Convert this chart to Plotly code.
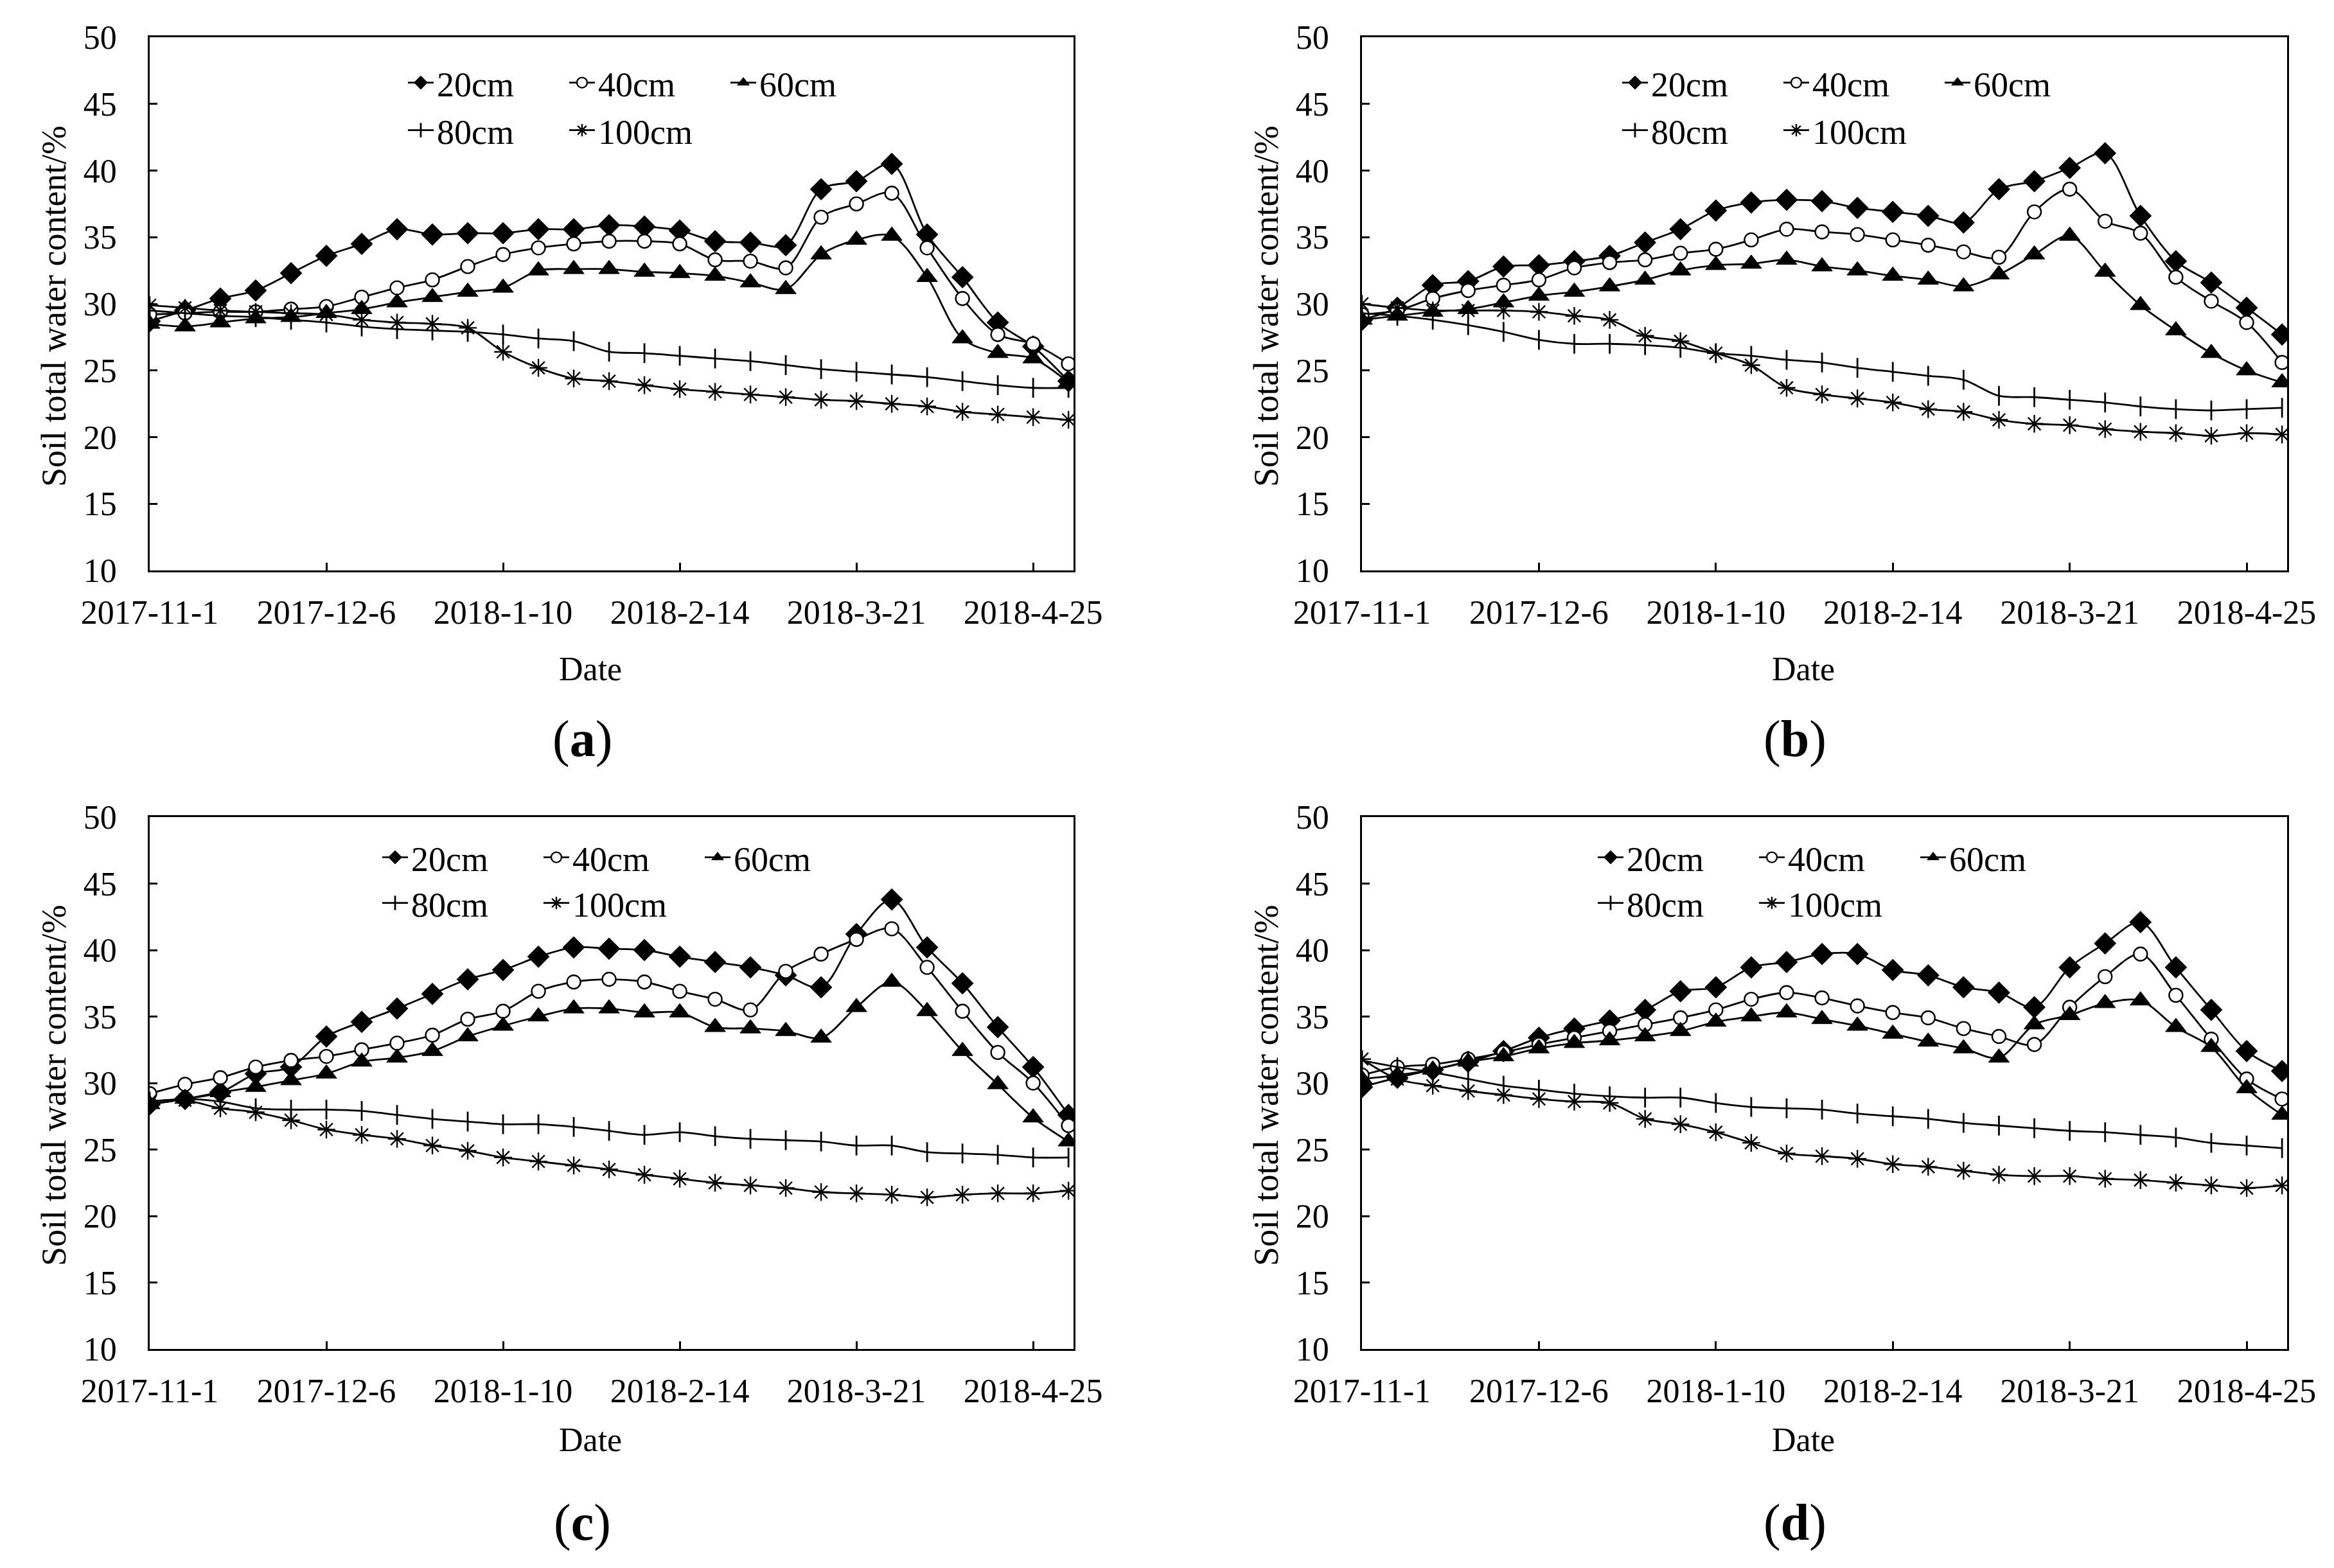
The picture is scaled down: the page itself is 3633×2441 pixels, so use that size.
import plotly.graph_objects as go

# ---------------- data ----------------
dates = ["2017-11-01", "2017-11-08", "2017-11-15", "2017-11-22", "2017-11-29",
         "2017-12-06", "2017-12-13", "2017-12-20", "2017-12-27", "2018-01-03",
         "2018-01-10", "2018-01-17", "2018-01-24", "2018-01-31", "2018-02-07",
         "2018-02-14", "2018-02-21", "2018-02-28", "2018-03-07", "2018-03-14",
         "2018-03-21", "2018-03-28", "2018-04-04", "2018-04-11", "2018-04-18",
         "2018-04-25", "2018-05-02"]

tick_vals = ["2017-11-01", "2017-12-06", "2018-01-10", "2018-02-14", "2018-03-21", "2018-04-25"]
tick_text = ["2017-11-1", "2017-12-6", "2018-1-10", "2018-2-14", "2018-3-21", "2018-4-25"]

depths = ["20cm", "40cm", "60cm", "80cm", "100cm"]

a_20 = [28.7, 29.5, 30.4, 31.0, 32.3, 33.6, 34.5, 35.6, 35.2, 35.3, 35.3, 35.6, 35.6, 35.9, 35.8, 35.5, 34.7, 34.6, 34.4, 38.6, 39.2, 40.5, 35.2, 32.0, 28.6, 26.8, 24.2]
a_40 = [29.2, 29.3, 29.4, 29.4, 29.6, 29.8, 30.5, 31.2, 31.8, 32.8, 33.7, 34.2, 34.5, 34.7, 34.7, 34.5, 33.3, 33.2, 32.7, 36.5, 37.5, 38.3, 34.2, 30.4, 27.7, 27.0, 25.5]
a_60 = [28.5, 28.3, 28.6, 28.9, 29.0, 29.3, 29.6, 30.1, 30.5, 30.9, 31.2, 32.5, 32.6, 32.6, 32.4, 32.3, 32.1, 31.6, 31.1, 33.7, 34.8, 35.1, 32.0, 27.4, 26.3, 25.9, 24.1]
a_80 = [29.5, 29.3, 29.1, 29.0, 28.8, 28.6, 28.3, 28.1, 28.0, 27.9, 27.7, 27.4, 27.2, 26.4, 26.3, 26.1, 25.9, 25.7, 25.4, 25.1, 24.9, 24.7, 24.5, 24.2, 23.9, 23.7, 23.7]
a_100 = [29.9, 29.7, 29.5, 29.4, 29.3, 29.2, 28.8, 28.6, 28.5, 28.2, 26.4, 25.2, 24.4, 24.2, 23.9, 23.6, 23.4, 23.2, 23.0, 22.8, 22.7, 22.5, 22.3, 21.9, 21.7, 21.5, 21.3]

b_20 = [28.8, 29.7, 31.4, 31.7, 32.8, 32.9, 33.2, 33.6, 34.6, 35.6, 37.0, 37.6, 37.8, 37.7, 37.2, 36.9, 36.6, 36.1, 38.6, 39.2, 40.2, 41.3, 36.6, 33.2, 31.6, 29.7, 27.7]
b_40 = [29.2, 29.5, 30.4, 31.0, 31.4, 31.8, 32.7, 33.1, 33.3, 33.8, 34.1, 34.8, 35.6, 35.4, 35.2, 34.8, 34.4, 33.9, 33.5, 36.9, 38.6, 36.2, 35.3, 32.0, 30.2, 28.6, 25.6]
b_60 = [28.8, 29.1, 29.4, 29.6, 30.1, 30.6, 30.9, 31.3, 31.8, 32.5, 32.9, 33.0, 33.3, 32.8, 32.5, 32.1, 31.8, 31.3, 32.2, 33.7, 35.1, 32.4, 29.9, 28.0, 26.3, 25.0, 24.1]
b_80 = [29.3, 29.1, 28.8, 28.4, 27.9, 27.3, 27.0, 27.0, 26.9, 26.7, 26.3, 26.1, 25.8, 25.6, 25.2, 24.9, 24.6, 24.3, 23.1, 23.0, 22.8, 22.6, 22.3, 22.1, 22.0, 22.1, 22.2]
b_100 = [30.0, 29.7, 29.5, 29.5, 29.5, 29.4, 29.1, 28.8, 27.6, 27.2, 26.3, 25.4, 23.7, 23.2, 22.9, 22.6, 22.1, 21.9, 21.3, 21.0, 20.9, 20.6, 20.4, 20.3, 20.1, 20.3, 20.2]

c_20 = [28.4, 28.8, 29.3, 30.7, 31.2, 33.5, 34.6, 35.6, 36.7, 37.8, 38.5, 39.5, 40.2, 40.1, 40.0, 39.5, 39.1, 38.7, 38.1, 37.2, 41.2, 43.8, 40.2, 37.5, 34.2, 31.2, 27.6]
c_40 = [29.2, 29.9, 30.4, 31.2, 31.7, 32.0, 32.5, 33.0, 33.6, 34.8, 35.4, 36.9, 37.6, 37.8, 37.6, 36.9, 36.3, 35.5, 38.4, 39.7, 40.8, 41.6, 38.7, 35.4, 32.3, 30.0, 26.8]
c_60 = [28.4, 28.8, 29.3, 29.7, 30.2, 30.7, 31.6, 31.9, 32.4, 33.5, 34.3, 35.0, 35.6, 35.6, 35.3, 35.3, 34.2, 34.1, 33.9, 33.4, 35.7, 37.6, 35.4, 32.4, 29.9, 27.4, 25.6]
c_80 = [28.6, 28.8, 28.6, 28.1, 28.0, 28.0, 27.9, 27.6, 27.3, 27.1, 26.9, 26.9, 26.7, 26.4, 26.1, 26.3, 26.0, 25.8, 25.7, 25.6, 25.3, 25.3, 24.8, 24.7, 24.6, 24.4, 24.4]
c_100 = [28.6, 28.7, 28.1, 27.8, 27.2, 26.5, 26.1, 25.8, 25.3, 24.9, 24.4, 24.1, 23.8, 23.5, 23.1, 22.8, 22.5, 22.3, 22.1, 21.8, 21.7, 21.6, 21.4, 21.6, 21.7, 21.7, 21.9]

d_20 = [29.7, 30.4, 31.0, 31.6, 32.4, 33.4, 34.1, 34.7, 35.5, 36.9, 37.2, 38.7, 39.1, 39.7, 39.7, 38.5, 38.1, 37.2, 36.8, 35.7, 38.7, 40.5, 42.1, 38.7, 35.5, 32.4, 30.9]
d_40 = [30.6, 31.2, 31.4, 31.8, 32.3, 32.9, 33.4, 33.9, 34.4, 34.9, 35.5, 36.3, 36.8, 36.4, 35.8, 35.3, 34.9, 34.1, 33.5, 32.9, 35.7, 38.0, 39.7, 36.6, 33.3, 30.3, 28.8]
d_60 = [30.3, 30.6, 31.0, 31.6, 32.0, 32.6, 33.0, 33.2, 33.5, 33.9, 34.6, 35.0, 35.3, 34.8, 34.3, 33.7, 33.1, 32.6, 31.9, 34.4, 35.1, 36.0, 36.2, 34.2, 32.7, 29.6, 27.6]
d_80 = [31.7, 31.2, 30.8, 30.3, 29.8, 29.5, 29.2, 29.0, 28.9, 28.9, 28.5, 28.2, 28.1, 28.0, 27.7, 27.5, 27.3, 27.0, 26.8, 26.6, 26.4, 26.3, 26.1, 25.9, 25.5, 25.3, 25.1]
d_100 = [31.8, 30.3, 29.8, 29.4, 29.1, 28.8, 28.6, 28.5, 27.3, 26.9, 26.3, 25.5, 24.7, 24.5, 24.3, 23.9, 23.7, 23.4, 23.1, 23.0, 23.0, 22.8, 22.7, 22.5, 22.3, 22.1, 22.3]

panels = [
    ("a", [a_20, a_40, a_60, a_80, a_100]),
    ("b", [b_20, b_40, b_60, b_80, b_100]),
    ("c", [c_20, c_40, c_60, c_80, c_100]),
    ("d", [d_20, d_40, d_60, d_80, d_100]),
]

# ---------------- style ----------------
OFF = 8                      # default page margin of the html body
W, H = 3633 - OFF, 2441 - OFF
FONT = "Liberation Serif"
TICK_SIZE = 52
LW = 2.8

marker_styles = [
    dict(symbol="diamond", size=26, color="black", line=dict(color="black", width=1)),
    dict(symbol="circle", size=21, color="white", line=dict(color="black", width=2.4)),
    dict(symbol="triangle-up", size=28, color="black", line=dict(color="black", width=1)),
    dict(symbol="line-ns", size=22, color="black", line=dict(color="black", width=2.8)),
    dict(symbol="asterisk", size=23, color="black", line=dict(color="black", width=2.4)),
]

# plot-area pixel boxes in page pixels (left, right, top, bottom)
boxes = [(233, 1671, 58, 888), (2120, 3560, 58, 888),
         (233, 1671, 1272, 2100), (2120, 3560, 1272, 2100)]
legend_left = [630, 2520, 590, 2482]
legend_rows = [(129, 203), (129, 203), (1335, 1406), (1335, 1406)]
date_offset = [154, 154, 141, 141]
label_offset = [262, 262, 270, 270]

fig = go.Figure()
layout = dict(
    template="none",
    width=W, height=H, autosize=False,
    margin=dict(l=0, r=0, t=0, b=0, pad=0, autoexpand=False),
    paper_bgcolor="white", plot_bgcolor="white",
    font=dict(family=FONT, color="black", size=TICK_SIZE),
    annotations=[],
)

def px(v):
    return (v - OFF) / W

def py(v):
    return 1 - (v - OFF) / H

for i, (lab, series) in enumerate(panels):
    n = "" if i == 0 else str(i + 1)
    L, R, T, B = boxes[i]
    layout["xaxis" + n] = dict(
        domain=[px(L), px(R)], anchor="y" + n, type="date", automargin=False,
        range=["2017-11-01", "2018-05-03"],
        tickvals=tick_vals, ticktext=tick_text,
        ticks="inside", ticklen=12, tickwidth=2.5, tickcolor="black",
        showline=True, linecolor="black", linewidth=2.5, mirror=True,
        showgrid=False, zeroline=False,
        tickfont=dict(family=FONT, size=TICK_SIZE, color="black"),
        ticklabelstandoff=18,
    )
    layout["yaxis" + n] = dict(
        domain=[py(B), py(T)], anchor="x" + n, automargin=False,
        range=[10, 50], dtick=5, tick0=10,
        ticks="inside", ticklen=12, tickwidth=2.5, tickcolor="black",
        showline=True, linecolor="black", linewidth=2.5, mirror=True,
        showgrid=False, zeroline=False,
        tickfont=dict(family=FONT, size=TICK_SIZE, color="black"),
        ticklabelstandoff=38,
    )
    leg1 = "legend" if i == 0 else "legend" + str(2 * i + 1)
    leg2 = "legend" + str(2 * i + 2)
    r1, r2 = legend_rows[i]
    for lid, ry in ((leg1, r1), (leg2, r2)):
        layout[lid] = dict(
            orientation="h", x=px(legend_left[i]), y=py(ry),
            xanchor="left", yanchor="middle", xref="paper", yref="paper",
            bgcolor="rgba(0,0,0,0)", borderwidth=0,
            font=dict(family=FONT, size=54, color="black"),
            itemwidth=40, entrywidth=196, entrywidthmode="pixels",
            traceorder="normal",
        )
    for j, (name, vals) in enumerate(zip(depths, series)):
        fig.add_trace(go.Scatter(
            x=dates, y=vals, name=name, mode="lines+markers",
            xaxis="x" + n, yaxis="y" + n,
            line=dict(color="black", width=LW, shape="spline", smoothing=0.9),
            marker=marker_styles[j],
            legend=leg1 if j < 3 else leg2,
            showlegend=True,
        ))
    cx = (L + R) / 2
    layout["annotations"].append(dict(
        text="Soil total water content/%", textangle=-90,
        x=px(L - 149), y=py((T + B) / 2 + 4), xref="paper", yref="paper",
        showarrow=False, xanchor="center", yanchor="middle",
        font=dict(family=FONT, size=54, color="black")))
    layout["annotations"].append(dict(
        text="Date", x=px(cx - 33), y=py(B + date_offset[i]), xref="paper", yref="paper",
        showarrow=False, xanchor="center", yanchor="middle",
        font=dict(family=FONT, size=52, color="black")))
    layout["annotations"].append(dict(
        text="(<b>" + lab + "</b>)", x=px(cx - 46), y=py(B + label_offset[i]),
        xref="paper", yref="paper",
        showarrow=False, xanchor="center", yanchor="middle",
        font=dict(family=FONT, size=80, color="black")))

fig.update_layout(**layout)
fig.write_html("out.html")
